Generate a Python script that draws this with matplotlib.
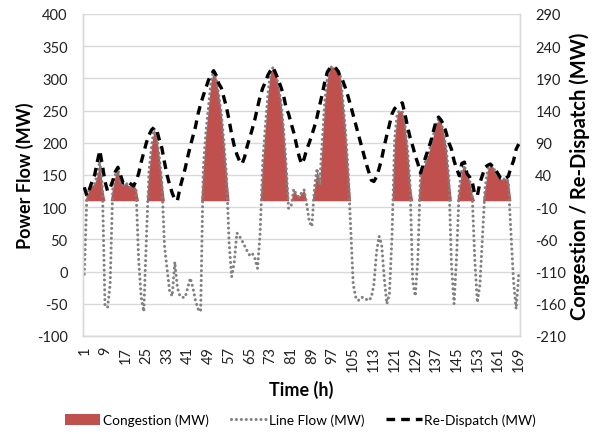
import numpy as np
import matplotlib
matplotlib.use("Agg")
import matplotlib.pyplot as plt
from matplotlib.patches import Patch
from matplotlib.lines import Line2D

plt.rcParams['font.family'] = ['Lato', 'DejaVu Sans']
plt.rcParams['axes.unicode_minus'] = False

hours = list(range(1, 170))

# Line flow (MW, left axis)
line_flow = [
    -4, 118, 128, 134, 136, 150, 172, 130, -52, -56,
    -20, 130, 150, 160, 140, 134, 138, 134, 131, 134,
    129, 20, -40, -62, 50, 155, 195, 222, 210, 178,
    140, 40, 5, -30, -38, 15, -25, -38, -40, -40,
    -25, -10, -25, -45, -58, -62, 160, 215, 255, 295,
    312, 300, 275, 245, 200, 150, 45, -8, 15, 60,
    55, 48, 40, 32, 25, 28, 20, 5, 60, 170,
    225, 275, 310, 317, 308, 290, 265, 225, 170, 98,
    102, 128, 120, 116, 122, 127, 105, 78, 70, 130,
    160, 135, 200, 265, 300, 317, 318, 317, 314, 305,
    265, 220, 160, 70, -20, -40, -45, -40, -40, -43,
    -45, -40, -20, 30, 55, 42, -10, -50, -35, 55,
    205, 245, 250, 248, 228, 190, 135, -15, -38, 20,
    150, 160, 172, 182, 196, 212, 228, 237, 232, 215,
    190, 145, 10, -50, 25, 130, 158, 165, 148, 142,
    120, 20, -48, -20, 55, 130, 158, 165, 163, 155,
    148, 144, 143, 145, 140, 60, -15, -58, -5,
]

# Congestion (MW, right axis)
congestion = [
    0, 8, 18, 24, 26, 40, 62, 20, 0, 0,
    0, 20, 40, 50, 30, 24, 28, 24, 21, 24,
    19, 0, 0, 0, 0, 45, 85, 112, 100, 68,
    30, 0, 0, 0, 0, 0, 0, 0, 0, 0,
    0, 0, 0, 0, 0, 0, 50, 105, 145, 185,
    202, 190, 165, 135, 90, 40, 0, 0, 0, 0,
    0, 0, 0, 0, 0, 0, 0, 0, 0, 60,
    115, 165, 200, 207, 198, 180, 155, 115, 60, 0,
    0, 18, 10, 6, 12, 17, 0, 0, 0, 20,
    50, 25, 90, 155, 190, 207, 208, 207, 204, 195,
    155, 110, 50, 0, 0, 0, 0, 0, 0, 0,
    0, 0, 0, 0, 0, 0, 0, 0, 0, 0,
    95, 135, 140, 138, 118, 80, 25, 0, 0, 0,
    40, 50, 62, 72, 86, 102, 118, 127, 122, 105,
    80, 35, 0, 0, 0, 20, 48, 55, 38, 32,
    10, 0, 0, 0, 0, 20, 48, 55, 53, 45,
    38, 34, 33, 35, 30, 0, 0, 0, 0,
]

# Re-dispatch (MW, right axis)
redispatch = [
    21, 8, 18, 30, 40, 60, 78, 55, 30, 15,
    20, 31, 45, 52, 40, 28, 28, 29, 26, 23,
    30, 42, 60, 75, 90, 102, 110, 114, 110, 95,
    82, 60, 40, 25, 12, 2, 0, 20, 35, 50,
    68, 85, 100, 115, 135, 150, 163, 175, 187, 195,
    202, 195, 182, 175, 160, 145, 125, 103, 85, 72,
    62, 57, 68, 85, 98, 112, 127, 145, 162, 175,
    184, 195, 202, 207, 198, 188, 177, 165, 145, 135,
    120, 106, 88, 70, 57, 65, 80, 90, 102, 115,
    130, 148, 165, 185, 200, 206, 208, 207, 202, 193,
    186, 175, 162, 148, 133, 118, 103, 88, 73, 58,
    45, 32, 30, 37, 50, 65, 85, 102, 118, 135,
    143, 147, 150, 152, 135, 115, 98, 85, 70, 58,
    43, 55, 68, 80, 92, 108, 123, 130, 125, 118,
    105, 90, 80, 62, 50, 39, 58, 60, 42, 37,
    30, 10, 8, 28, 40, 52, 55, 57, 53, 48,
    42, 35, 33, 35, 38, 52, 62, 80, 88,
]

xtick_labels = list(range(1, 170, 8))
left_ticks = list(range(-100, 401, 50))
right_ticks = list(range(-210, 291, 50))

W, H = 601, 435
fig = plt.figure(figsize=(W / 100, H / 100), dpi=100)
L, R, T, B = 83, 520, 15, 337
ax = fig.add_axes([L / W, 1 - B / H, (R - L) / W, (B - T) / H])
ax2 = ax.twinx()

ax.set_xlim(0.5, 169.5)
ax.set_ylim(-100, 400)
ax.set_yticks(left_ticks)
ax2.set_ylim(-210, 290)
ax2.set_yticks(right_ticks)
ax.set_xticks(xtick_labels)
ax.set_xticklabels([str(v) for v in xtick_labels], rotation=90)

grid_c = '#D9D9D9'
ax.yaxis.grid(True, color=grid_c, lw=1.0)
ax.set_axisbelow(True)
for a in (ax, ax2):
    for s in a.spines.values():
        s.set_color(grid_c)
        s.set_linewidth(1.0)
    a.spines['top'].set_visible(False)
    a.tick_params(axis='y', length=0, labelsize=10.5, colors='#222222', pad=11)
ax.tick_params(axis='x', length=0, labelsize=10.5, colors='#222222', pad=7)

fill_c = '#C0504D'
dot_style = (0, (0.01, 1.6))
dash_style = (0, (2.6, 1.8))
ax2.fill_between(hours, 0, congestion, color=fill_c, lw=0, zorder=1)
ax2.plot(hours, line_flow, transform=ax.transData, color='#808080', lw=2.2,
         linestyle=dot_style, dash_capstyle='round', zorder=2)
ax2.plot(hours, redispatch, color='black', lw=2.4,
         linestyle=dash_style, zorder=3)

ax.set_xlabel('Time (h)', fontsize=13, fontweight='bold', labelpad=6)
ax.set_ylabel('Power Flow (MW)', fontsize=13, fontweight='bold', labelpad=2)
ax2.set_ylabel('Congestion / Re-Dispatch (MW)', fontsize=14.5, fontweight='bold', labelpad=2)

handles = [
    Patch(facecolor=fill_c, edgecolor='none'),
    Line2D([], [], color='#808080', lw=2.2, linestyle=dot_style, dash_capstyle='round'),
    Line2D([], [], color='black', lw=2.4, linestyle=dash_style),
]
fig.legend(handles, ['Congestion (MW)', 'Line Flow (MW)', 'Re-Dispatch (MW)'],
           loc='center', bbox_to_anchor=(0.5, 1 - 421 / H), ncol=3, frameon=False,
           fontsize=9.8, handlelength=2.6, handleheight=0.9, handletextpad=0.2,
           columnspacing=1.6)

fig.savefig('out.png', dpi=100)
